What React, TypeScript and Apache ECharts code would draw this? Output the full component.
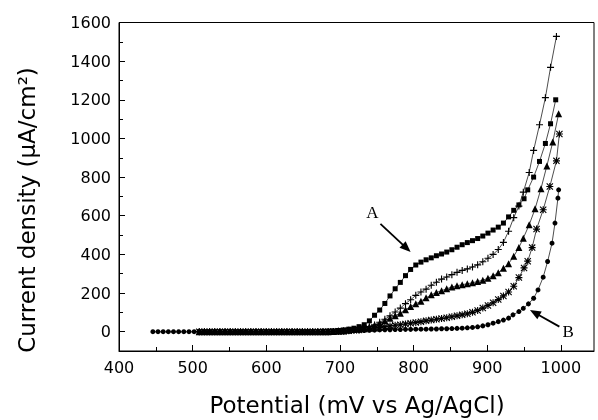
import React, { useEffect, useRef } from 'react';
import * as echarts from 'echarts';

// Axis ticks
const xMajorTicks = [400, 500, 600, 700, 800, 900, 1000];
const xMinorTicks = [450, 550, 650, 750, 850, 950];
const yMajorTicks = [0, 200, 400, 600, 800, 1000, 1200, 1400, 1600];
const yMinorTicks = [100, 300, 500, 700, 900, 1100, 1300, 1500];

const xTitle = 'Potential (mV vs Ag/AgCl)';
const yTitle = 'Current density (μA/cm²)';

// [potential (mV), current density (µA/cm²)]
const curveA_squares: [number, number][] = [
  [509, 0], [516, 0], [523, 0], [530, 0], [537, 0], [544, 0], [551, 0], [558, 0], [565, 0], [572, 0],
  [579, 0], [586, 0], [593, 0], [600, 0], [607, 0], [614, 0], [621, 0], [628, 0], [635, 0], [642, 0],
  [649, 0], [656, 0], [663, 0], [670, 0], [677, 2], [684, 3], [691, 4], [698, 6], [705, 9], [712, 13],
  [719, 18], [726, 26], [733, 36], [740, 56], [747, 85], [754, 112], [761, 146], [768, 185], [775, 222],
  [782, 255], [789, 290], [796, 322], [803, 345], [810, 360], [817, 372], [824, 382], [831, 393],
  [838, 402], [845, 412], [852, 424], [859, 437], [866, 450], [873, 461], [880, 471], [887, 482],
  [894, 495], [901, 510], [908, 526], [915, 541], [922, 562], [929, 594], [936, 628], [943, 656],
  [950, 688], [955, 734], [963, 800], [971, 881], [979, 974], [986, 1076], [993, 1200],
];

const curvePlus: [number, number][] = [
  [509, 0], [516, 0], [523, 0], [530, 0], [537, 0], [544, 0], [551, 0], [558, 0], [565, 0], [572, 0],
  [579, 0], [586, 0], [593, 0], [600, 0], [607, 0], [614, 0], [621, 0], [628, 0], [635, 0], [642, 0],
  [649, 0], [656, 0], [663, 0], [670, 0], [677, 0], [684, 0], [691, 1], [698, 2], [705, 4], [712, 7],
  [719, 11], [726, 15], [733, 20], [740, 26], [747, 35], [754, 49], [761, 64], [768, 82], [775, 102],
  [782, 122], [789, 145], [796, 165], [803, 188], [810, 205], [817, 220], [824, 240], [831, 256],
  [838, 272], [845, 283], [852, 295], [859, 307], [866, 317], [873, 325], [880, 335], [887, 346],
  [894, 362], [901, 380], [908, 400], [915, 425], [922, 462], [929, 520], [936, 590], [943, 650],
  [949, 722], [957, 824], [963, 938], [971, 1071], [979, 1211], [986, 1368], [994, 1528],
];

const curveTriangles: [number, number][] = [
  [509, 0], [516, 0], [523, 0], [530, 0], [537, 0], [544, 0], [551, 0], [558, 0], [565, 0], [572, 0],
  [579, 0], [586, 0], [593, 0], [600, 0], [607, 0], [614, 0], [621, 0], [628, 0], [635, 0], [642, 0],
  [649, 0], [656, 0], [663, 0], [670, 0], [677, 0], [684, 0], [691, 1], [698, 2], [705, 4], [712, 7],
  [719, 11], [726, 15], [733, 19], [740, 26], [747, 34], [754, 44], [761, 56], [768, 70], [775, 83],
  [782, 96], [789, 113], [796, 130], [803, 144], [810, 158], [817, 175], [824, 191], [831, 203],
  [838, 212], [845, 222], [852, 231], [859, 238], [866, 243], [873, 248], [880, 253], [887, 260],
  [894, 266], [901, 277], [908, 290], [915, 305], [922, 328], [929, 352], [936, 390], [943, 435],
  [949, 484], [957, 553], [965, 636], [973, 740], [981, 858], [989, 981], [997, 1128],
];

const curveAsterisks: [number, number][] = [
  [509, 0], [516, 0], [523, 0], [530, 0], [537, 0], [544, 0], [551, 0], [558, 0], [565, 0], [572, 0],
  [579, 0], [586, 0], [593, 0], [600, 0], [607, 0], [614, 0], [621, 0], [628, 0], [635, 0], [642, 0],
  [649, 0], [656, 0], [663, 0], [670, 0], [677, 0], [684, 0], [691, 1], [698, 2], [705, 3], [712, 5],
  [719, 7], [726, 9], [733, 12], [740, 15], [747, 18], [754, 22], [761, 26], [768, 30], [775, 33],
  [782, 36], [789, 40], [796, 44], [803, 48], [810, 52], [817, 56], [824, 60], [831, 64], [838, 68],
  [845, 72], [852, 77], [859, 82], [866, 87], [873, 93], [880, 100], [887, 110], [894, 122], [901, 136],
  [908, 150], [915, 166], [922, 185], [929, 205], [936, 235], [943, 280], [950, 330], [955, 365],
  [961, 435], [967, 531], [976, 631], [985, 751], [994, 884], [998, 1023],
];

const curveB_circles: [number, number][] = [
  [446, 0], [453, 0], [460, 0], [467, 0], [474, 0], [481, 0], [488, 0], [495, 0], [502, 0], [509, 0],
  [516, 0], [523, 0], [530, 0], [537, 0], [544, 0], [551, 0], [558, 0], [565, 0], [572, 0], [579, 0],
  [586, 0], [593, 0], [600, 0], [607, 0], [614, 0], [621, 0], [628, 0], [635, 0], [642, 0], [649, 0],
  [656, 0], [663, 0], [670, 0], [677, 0], [684, 0], [691, 0], [698, 1], [705, 2], [712, 3], [719, 4],
  [726, 5], [733, 6], [740, 7], [747, 8], [754, 9], [761, 10], [768, 10], [775, 11], [782, 11],
  [789, 12], [796, 12], [803, 13], [810, 13], [817, 13], [824, 14], [831, 14], [838, 15], [845, 15],
  [852, 16], [859, 17], [866, 18], [873, 20], [880, 22], [887, 25], [894, 30], [901, 36], [908, 44],
  [915, 52], [922, 60], [929, 70], [935, 87], [943, 104], [949, 121], [956, 144], [963, 173],
  [969, 216], [976, 282], [982, 363], [988, 458], [992, 562], [996, 691], [997, 734],
];

// Annotation anchors in data coordinates
const labelA = { text: 'A', at: [744, 615], tail: [755, 558], tip: [796, 412] };
const labelB = { text: 'B', at: [1010, 1], tail: [998, 26], tip: [958, 112] };

const PLUS = 'path://M4.2,0H5.8V4.2H10V5.8H5.8V10H4.2V5.8H0V4.2H4.2Z';
const STAR =
  'path://M4.2,0H5.8V10H4.2Z M0,4.2H10V5.8H0Z M1.1,0L10,8.9L8.9,10L0,1.1Z M8.9,0L10,1.1L1.1,10L0,8.9Z';

function lineSeries(name: string, data: [number, number][], symbol: string, size: number) {
  return {
    name,
    type: 'line',
    data,
    symbol,
    symbolSize: size,
    showSymbol: true,
    showAllSymbol: true,
    lineStyle: { color: '#000', width: 0.7 },
    itemStyle: { color: '#000', borderWidth: 0 },
    emphasis: { disabled: true },
  };
}

export default function App() {
  const ref = useRef<HTMLDivElement>(null);
  useEffect(() => {
    if (!ref.current) return;
    const chart = echarts.init(ref.current, null, { renderer: 'svg' });
    const xMin = 400;
    const xMax = 1045;
    const yMin = -100;
    const yMax = 1600;
    const plain = (v: number) => String(v);
    const tickFont = { fontFamily: 'DejaVu Sans', fontSize: 16, color: '#000' };
    chart.setOption({
      animation: false,
      grid: {
        left: 119,
        right: 4,
        top: 22.5,
        bottom: 69,
        show: true,
        borderColor: '#000',
        borderWidth: 1,
        backgroundColor: 'transparent',
      },
      xAxis: [
        {
          type: 'value',
          min: xMin,
          max: xMax,
          position: 'bottom',
          axisLine: { show: true, onZero: false, lineStyle: { color: '#000', width: 1 } },
          axisTick: { show: true, inside: true, length: 6, customValues: xMajorTicks, lineStyle: { color: '#000' } },
          axisLabel: { ...tickFont, margin: 8, customValues: xMajorTicks, formatter: plain },
          splitLine: { show: false },
        },
        {
          type: 'value',
          min: xMin,
          max: xMax,
          position: 'bottom',
          offset: 0,
          axisLine: { show: false, onZero: false },
          axisTick: { show: true, inside: true, length: 4, customValues: xMinorTicks, lineStyle: { color: '#000' } },
          axisLabel: { show: false },
          splitLine: { show: false },
        },
      ],
      yAxis: [
        {
          type: 'value',
          min: yMin,
          max: yMax,
          position: 'left',
          axisLine: { show: true, onZero: false, lineStyle: { color: '#000', width: 1 } },
          axisTick: { show: true, inside: true, length: 6, customValues: yMajorTicks, lineStyle: { color: '#000' } },
          axisLabel: { ...tickFont, margin: 8, customValues: yMajorTicks, formatter: plain },
          splitLine: { show: false },
        },
        {
          type: 'value',
          min: yMin,
          max: yMax,
          position: 'left',
          offset: 0,
          axisLine: { show: false, onZero: false },
          axisTick: { show: true, inside: true, length: 4, customValues: yMinorTicks, lineStyle: { color: '#000' } },
          axisLabel: { show: false },
          splitLine: { show: false },
        },
      ],
      series: [
        lineSeries('B', curveB_circles, 'circle', 5),
        lineSeries('asterisk', curveAsterisks, STAR, 7),
        lineSeries('triangle', curveTriangles, 'triangle', 7),
        lineSeries('plus', curvePlus, PLUS, 7),
        lineSeries('A', curveA_squares, 'rect', 5),
      ],
    });

    const px = (p: number[]) => chart.convertToPixel({ xAxisIndex: 0, yAxisIndex: 0 }, p) as number[];
    const arrow = (tailD: number[], tipD: number[]) => {
      const tail = px(tailD);
      const tip = px(tipD);
      const dx = tip[0] - tail[0];
      const dy = tip[1] - tail[1];
      const len = Math.hypot(dx, dy);
      const ux = dx / len;
      const uy = dy / len;
      const headLen = 11;
      const headHalf = 4.5;
      const bx = tip[0] - ux * headLen;
      const by = tip[1] - uy * headLen;
      return [
        {
          type: 'line',
          shape: { x1: tail[0], y1: tail[1], x2: bx + ux * 2, y2: by + uy * 2 },
          style: { stroke: '#000', lineWidth: 1.8 },
          silent: true,
        },
        {
          type: 'polygon',
          shape: {
            points: [
              [tip[0], tip[1]],
              [bx - uy * headHalf, by + ux * headHalf],
              [bx + uy * headHalf, by - ux * headHalf],
            ],
          },
          style: { fill: '#000' },
          silent: true,
        },
      ];
    };
    const textAt = (t: string, at: number[]) => {
      const p = px(at);
      return {
        type: 'text',
        x: p[0],
        y: p[1],
        silent: true,
        style: {
          text: t,
          fontFamily: 'Liberation Serif',
          fontSize: 17,
          fill: '#000',
          align: 'center',
          verticalAlign: 'middle',
        },
      };
    };
    chart.setOption({
      graphic: [
        {
          type: 'text',
          x: 357,
          y: 405,
          silent: true,
          style: {
            text: xTitle,
            fontFamily: 'DejaVu Sans',
            fontSize: 23,
            fill: '#000',
            align: 'center',
            verticalAlign: 'middle',
          },
        },
        {
          type: 'text',
          x: 27,
          y: 210,
          rotation: Math.PI / 2,
          silent: true,
          style: {
            text: yTitle,
            fontFamily: 'DejaVu Sans',
            fontSize: 23,
            fill: '#000',
            align: 'center',
            verticalAlign: 'middle',
          },
        },
        textAt(labelA.text, labelA.at),
        ...arrow(labelA.tail, labelA.tip),
        textAt(labelB.text, labelB.at),
        ...arrow(labelB.tail, labelB.tip),
      ],
    });
    return () => chart.dispose();
  }, []);
  return <div ref={ref} style={{ position: 'fixed', left: 0, top: 0, width: 598, height: 420 }} />;
}
